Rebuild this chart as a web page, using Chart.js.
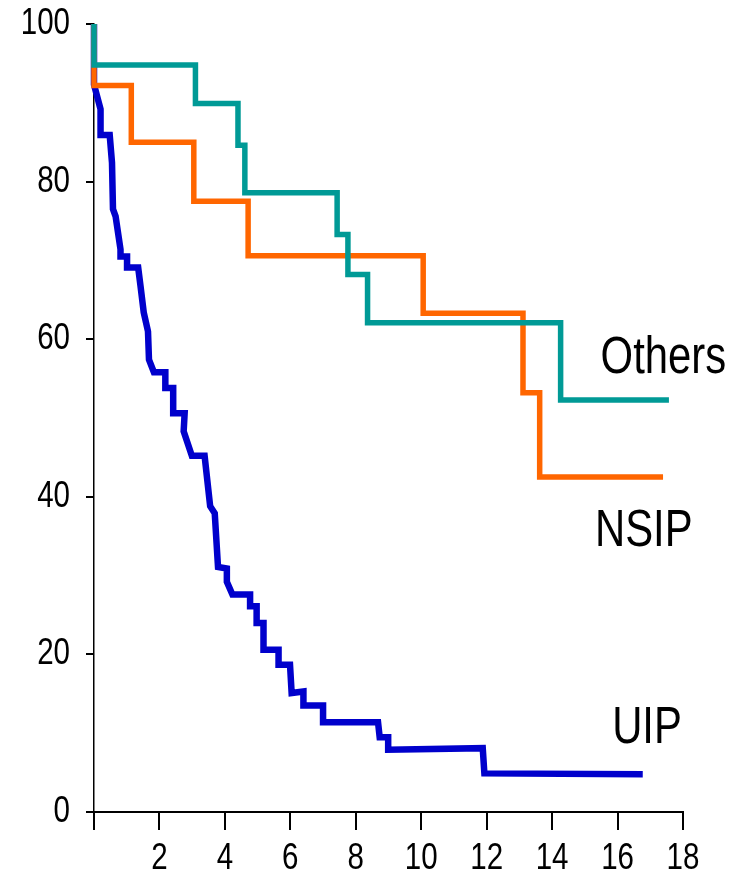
<!DOCTYPE html>
<html>
<head>
<meta charset="utf-8">
<script src="https://cdn.jsdelivr.net/npm/chart.js@4/dist/chart.umd.min.js"></script>
<style>
  html, body { margin: 0; padding: 0; background: #fff; }
  #wrap { width: 740px; height: 879px; }
</style>
</head>
<body>
<div id="wrap"><canvas id="km"></canvas></div>
<script>
// survival curves, x = years, y = % surviving
const seriesNames = ['Others', 'NSIP', 'UIP'];
const seriesColors = ['#009a96', '#ff6600', '#0000cc'];

// Others: step drops (time, survival)
const othersTimes = [0, 0, 3.10, 4.40, 4.61, 7.43, 7.76, 8.36, 14.26, 17.57];
const othersSurv  = [100, 94.8, 89.9, 84.6, 78.6, 73.3, 68.2, 62.1, 52.3, 52.3];

// NSIP
const nsipTimes = [0, 0, 1.14, 3.05, 4.71, 10.06, 13.11, 13.62, 17.39];
const nsipSurv  = [100, 92.2, 85.0, 77.5, 70.6, 63.3, 53.2, 42.5, 42.5];

// UIP: traced vertices of the curve
const uipTimes = [0, 0, 0.2, 0.2, 0.48, 0.55, 0.58, 0.66, 0.81, 0.81, 1.01, 1.01, 1.35, 1.42, 1.52, 1.65,
  1.68, 1.83, 2.18, 2.18, 2.42, 2.42, 2.77, 2.74, 2.99, 3.38, 3.55, 3.69, 3.79, 4.06, 4.06, 4.23,
  4.77, 4.77, 4.97, 4.97, 5.18, 5.18, 5.64, 5.64, 5.99, 6.04, 6.4, 6.4, 7.0, 7.0, 8.68, 8.73,
  8.99, 8.99, 11.88, 11.93, 16.77];
const uipSurv = [100, 92.3, 89.2, 85.9, 85.9, 82.4, 76.5, 75.6, 71.4, 70.5, 70.5, 69.1, 69.1, 66.8, 63.4, 61.0,
  57.4, 55.8, 55.8, 53.8, 53.8, 50.6, 50.6, 48.3, 45.2, 45.2, 38.8, 37.9, 31.1, 30.9, 29.2, 27.6,
  27.6, 26.1, 26.1, 24.0, 24.0, 20.6, 20.6, 18.7, 18.7, 15.1, 15.3, 13.5, 13.5, 11.4, 11.4, 9.5,
  9.5, 7.9, 8.1, 4.9, 4.8];

const xTicks = [0, 2, 4, 6, 8, 10, 12, 14, 16, 18];
const yTicks = [0, 20, 40, 60, 80, 100];

const FONT = "'Liberation Sans', Arial, sans-serif";
const SQUEEZE = 0.82; // narrow look of the original lettering

function toPoints(xs, ys) {
    return xs.map((x, i) => ({ x: x, y: ys[i] }));
}

function narrowText(ctx, text, x, y, size, align, baseline) {
    ctx.save();
    ctx.translate(x, y);
    ctx.scale(SQUEEZE, 1);
    ctx.font = size + 'px ' + FONT;
    ctx.textAlign = align;
    ctx.textBaseline = baseline;
    ctx.fillText(text, 0, 0);
    ctx.restore();
}

// tick labels and curve names, drawn condensed
const narrowLabels = {
    id: 'narrowLabels',
    afterDatasetsDraw(chart) {
        const ctx = chart.ctx;
        const xs = chart.scales.x;
        const ys = chart.scales.y;
        ctx.save();
        ctx.fillStyle = '#000';
        yTicks.forEach((v) => {
            narrowText(ctx, String(v), ys.right - 24, ys.getPixelForValue(v), 36, 'right', 'middle');
        });
        xTicks.forEach((v) => {
            if (v === 0) return;
            narrowText(ctx, String(v), xs.getPixelForValue(v), xs.top + 47, 36, 'center', 'middle');
        });
        const spots = [[17.4, 55.7], [16.8, 33.7], [16.9, 8.8]];
        seriesNames.forEach((name, i) => {
            narrowText(ctx, name, xs.getPixelForValue(spots[i][0]), ys.getPixelForValue(spots[i][1]), 51, 'center', 'alphabetic');
        });
        ctx.restore();
    }
};

new Chart(document.getElementById('km'), {
    type: 'scatter',
    data: {
        datasets: [
            { label: seriesNames[0], data: toPoints(othersTimes, othersSurv), stepped: 'before' },
            { label: seriesNames[1], data: toPoints(nsipTimes, nsipSurv), stepped: 'before' },
            { label: seriesNames[2], data: toPoints(uipTimes, uipSurv), stepped: false }
        ].map((ds, i) => Object.assign(ds, {
            showLine: true,
            borderColor: seriesColors[i],
            borderWidth: i === 2 ? 6.5 : 5.5,
            pointRadius: 0,
            borderJoinStyle: 'miter',
            clip: 8
        }))
    },
    options: {
        responsive: true,
        maintainAspectRatio: false,
        animation: false,
        layout: { padding: { left: 22, top: 24, right: 57, bottom: 0 } },
        plugins: { legend: { display: false }, tooltip: { enabled: false } },
        scales: {
            x: {
                type: 'linear',
                min: 0,
                max: 18,
                afterBuildTicks: (axis) => { axis.ticks = xTicks.map(v => ({ value: v })); },
                afterFit: (axis) => {
                    axis.height = 67;
                    axis.paddingLeft = 0;
                    axis.paddingRight = 0;
                },
                ticks: { display: false },
                grid: { drawOnChartArea: false, drawTicks: true, tickLength: 18, color: '#000', lineWidth: 2 },
                border: { color: '#000', width: 2 }
            },
            y: {
                type: 'linear',
                min: 0,
                max: 100,
                z: 1,
                afterBuildTicks: (axis) => { axis.ticks = yTicks.map(v => ({ value: v })); },
                afterFit: (axis) => {
                    axis.width = 72;
                    axis.paddingTop = 0;
                    axis.paddingBottom = 0;
                },
                ticks: { display: false },
                grid: { drawOnChartArea: false, drawTicks: true, tickLength: 8, color: '#000', lineWidth: 2 },
                border: { color: '#000', width: 1.5 }
            }
        }
    },
    plugins: [narrowLabels]
});
</script>
</body>
</html>
